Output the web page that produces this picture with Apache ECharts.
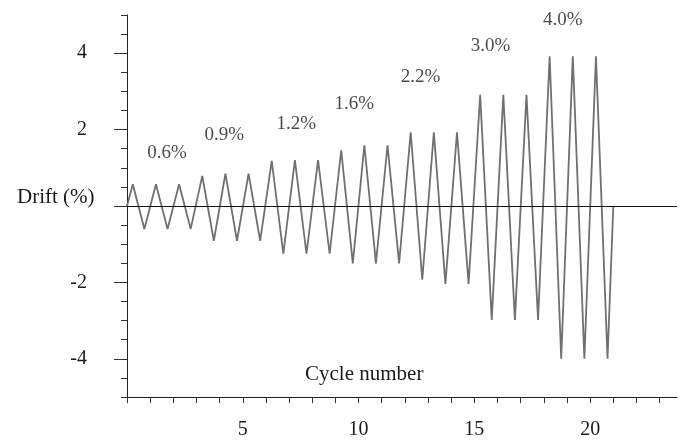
<!DOCTYPE html>
<html>
<head>
<meta charset="utf-8">
<script src="https://cdn.jsdelivr.net/npm/echarts@6.0.0/dist/echarts.min.js"></script>
<style>
  html, body { margin: 0; padding: 0; background: #fff; }
  #chart { width: 681px; height: 440px; }
</style>
</head>
<body>
<div id="chart"></div>
<script>
// valores: picos y valles de cada ciclo
const peakX = [0.25, 1.25, 2.25, 3.25, 4.25, 5.25, 6.25, 7.25, 8.25, 9.25, 10.25,
               11.25, 12.25, 13.25, 14.25, 15.25, 16.25, 17.25, 18.25, 19.25, 20.25];
const peakY = [0.57, 0.57, 0.57, 0.79, 0.85, 0.85, 1.18, 1.2, 1.2, 1.46, 1.59,
               1.59, 1.93, 1.93, 1.93, 2.91, 2.91, 2.91, 3.92, 3.92, 3.92];
const troughX = [0.75, 1.75, 2.75, 3.75, 4.75, 5.75, 6.75, 7.75, 8.75, 9.75, 10.75,
                 11.75, 12.75, 13.75, 14.75, 15.75, 16.75, 17.75, 18.75, 19.75, 20.75];
const troughY = [-0.6, -0.6, -0.6, -0.91, -0.91, -0.91, -1.25, -1.25, -1.25, -1.5, -1.5,
                 -1.5, -1.93, -2.04, -2.04, -2.98, -2.98, -2.98, -4.0, -4.0, -4.0];
const startPoint = [0, 0];
const endPoint = [21, 0];

// etiquetas de nivel de deriva
const driftLabels = ['0.6%', '0.9%', '1.2%', '1.6%', '2.2%', '3.0%', '4.0%'];
const driftLabelX = [1.73, 4.2, 7.31, 9.82, 12.68, 15.7, 18.82];
const driftLabelY = [1.38, 1.85, 2.14, 2.67, 3.37, 4.2, 4.86];

// ticks y etiquetas de los ejes
const xTicks = [0, 1, 2, 3, 4, 5, 6, 7, 8, 9, 10, 11, 12, 13, 14, 15, 16, 17, 18, 19, 20, 21, 22, 23];
const xLabels = [5, 10, 15, 20];
const yMajorTicks = [-4, -2, 0, 2, 4];
const yLabels = [-4, -2, 2, 4];

const serif = 'Liberation Serif';
const textColor = '#1a1a1a';

const lineData = [startPoint];
peakX.forEach((x, i) => {
    lineData.push([x, peakY[i]]);
    lineData.push([troughX[i], troughY[i]]);
});
lineData.push(endPoint);

const labelData = driftLabels.map((t, i) => ({ name: t, value: [driftLabelX[i], driftLabelY[i]] }));

const chart = echarts.init(document.getElementById('chart'));

const option = {
    animation: false,
    backgroundColor: '#fff',
    grid: { left: 127, right: 4, top: 15, bottom: 42 },
    xAxis: {
        type: 'value',
        min: 0,
        max: 23.75,
        interval: 1,
        splitLine: { show: false },
        axisLine: { onZero: false, lineStyle: { color: '#222', width: 1 } },
        axisTick: { length: 6, customValues: xTicks, lineStyle: { color: '#333' } },
        axisLabel: {
            customValues: xLabels,
            margin: 23,
            fontFamily: serif,
            fontSize: 20,
            color: textColor
        }
    },
    yAxis: [
        {
            type: 'value',
            min: -5,
            max: 5,
            interval: 0.5,
            splitLine: { show: false },
            axisLine: { show: true, onZero: false, lineStyle: { color: '#222', width: 1 } },
            axisTick: { length: 13, customValues: yMajorTicks, lineStyle: { color: '#333' } },
            axisLabel: {
                customValues: yLabels,
                margin: 40,
                fontFamily: serif,
                fontSize: 20,
                color: textColor
            }
        },
        {
            type: 'value',
            position: 'left',
            min: -5,
            max: 5,
            interval: 0.5,
            splitLine: { show: false },
            axisLine: { show: false },
            axisTick: { show: true, length: 6, lineStyle: { color: '#333' } },
            axisLabel: { show: false }
        }
    ],
    graphic: [
        {
            type: 'text',
            left: 17,
            top: 187,
            style: { text: 'Drift (%)', font: '21px "Liberation Serif"', fill: textColor }
        },
        {
            type: 'text',
            left: 305,
            top: 364,
            style: { text: 'Cycle number', font: '21px "Liberation Serif"', fill: textColor }
        }
    ],
    series: [
        {
            type: 'line',
            data: lineData,
            symbol: 'none',
            lineStyle: { color: '#707070', width: 1.8 },
            markLine: {
                silent: true,
                symbol: 'none',
                label: { show: false },
                lineStyle: { color: '#111', width: 1, type: 'solid' },
                data: [{ yAxis: 0 }]
            }
        },
        {
            type: 'scatter',
            data: labelData,
            symbolSize: 0,
            label: {
                show: true,
                position: 'inside',
                formatter: p => p.name,
                fontFamily: serif,
                fontSize: 19,
                color: textColor
            }
        }
    ]
};

chart.setOption(option);
</script>
</body>
</html>
